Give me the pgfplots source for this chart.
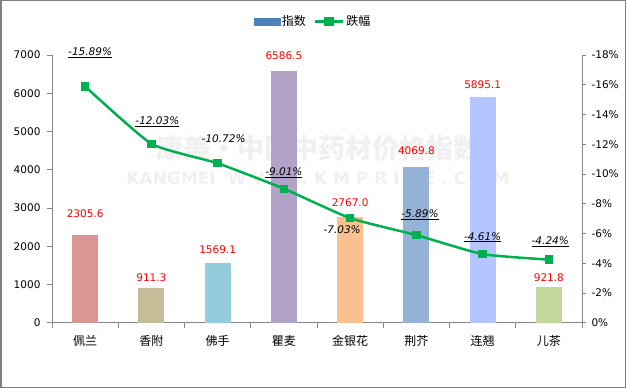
\documentclass[border=0pt]{standalone}
\usepackage{fontspec}
\setmainfont{DejaVu Sans}
\newfontfamily\cjk{Noto Sans CJK SC}
\usepackage{pgfplots}
\usepackage{pgfplotstable}
\pgfplotsset{compat=1.18}
\pgfplotsset{/pgf/number format/assume math mode=true}

\definecolor{axgray}{RGB}{134,134,134}
\definecolor{lgreen}{RGB}{0,176,80}
\definecolor{c1}{RGB}{217,150,148}
\definecolor{c2}{RGB}{196,189,151}
\definecolor{c3}{RGB}{147,205,221}
\definecolor{c4}{RGB}{179,162,199}
\definecolor{c5}{RGB}{250,192,144}
\definecolor{c6}{RGB}{149,179,215}
\definecolor{c7}{RGB}{179,198,255}
\definecolor{c8}{RGB}{195,214,155}
\definecolor{legblue}{RGB}{79,129,189}

% change rate (shown as negative percent); dx,dy: label offsets; u: underlined
\pgfplotstableread{
x y dx dy u
0 15.89 5 31 1
1 12.03 6 19 1
2 10.72 6 21 0
3 9.01 0 13 1
4 7.03 -8 -15 0
5 5.89 3.6 17.6 1
6 4.61 0 14 1
7 4.24 1.4 15 1
}\ratetable

\newcommand{\tickfont}{\fontsize{10.5}{12}\selectfont}

\begin{document}
\begin{tikzpicture}[x=1pt,y=1pt]
\useasboundingbox (0,0) rectangle (626,388);
\draw[color=black!50, line width=1.5pt] (0.75,0.75) rectangle (625.25,387.25);
% watermark
\node[text=black!6, font=\cjk\bfseries\fontsize{27}{27}\selectfont] at (318,240) {康美·中国中药材价格指数};
\node[text=black!6, font=\bfseries\fontsize{17}{17}\selectfont] at (318,210) {KANGMEI\ \ W W W . K M P R I C E . C O M};

\begin{axis}[
  at={(52pt,65.3pt)}, anchor=south west, scale only axis,
  width=530pt, height=267.7pt,
  xmin=-0.5, xmax=7.5, ymin=0, ymax=7000,
  clip=false,
  axis y line*=left, axis x line*=bottom,
  axis line style={axgray, line width=0.8pt},
  ytick={0,1000,...,7000},
  yticklabel style={font=\tickfont, xshift=-3pt},
  /pgf/number format/1000 sep={},
  xtick={0,...,7},
  xticklabels={佩兰,香附,佛手,瞿麦,金银花,荆芥,连翘,儿茶},
  xticklabel style={font=\cjk\fontsize{12}{12}\selectfont, yshift=-4pt},
  major x tick style={draw=none},
  minor xtick={-0.5,0.5,...,7.5},
  tick align=outside,
  major tick length=5pt, minor tick length=5pt,
  tick style={axgray, line width=0.8pt},
  every node near coord/.append style={text=red, anchor=base, inner sep=0pt, font=\tickfont},
  nodes near coords={\pgfmathprintnumber[fixed,precision=1,zerofill,1000 sep={}]{\pgfplotspointmeta}},
]
\addplot[ybar, bar width=26pt, bar shift=0pt, fill=c1, draw=none, nodes near coords style={yshift=17.2pt}] coordinates {(0,2305.6)};
\addplot[ybar, bar width=26pt, bar shift=0pt, fill=c2, draw=none, nodes near coords style={yshift=6.2pt}] coordinates {(1,911.3)};
\addplot[ybar, bar width=26pt, bar shift=0pt, fill=c3, draw=none, nodes near coords style={yshift=8.8pt}] coordinates {(2,1569.1)};
\addplot[ybar, bar width=26pt, bar shift=0pt, fill=c4, draw=none, nodes near coords style={yshift=11.2pt}] coordinates {(3,6586.5)};
\addplot[ybar, bar width=26pt, bar shift=0pt, fill=c5, draw=none, nodes near coords style={yshift=10.5pt}] coordinates {(4,2767.0)};
\addplot[ybar, bar width=26pt, bar shift=0pt, fill=c6, draw=none, nodes near coords style={yshift=12.8pt}] coordinates {(5,4069.8)};
\addplot[ybar, bar width=26pt, bar shift=0pt, fill=c7, draw=none, nodes near coords style={yshift=8.9pt}] coordinates {(6,5895.1)};
\addplot[ybar, bar width=26pt, bar shift=0pt, fill=c8, draw=none, nodes near coords style={yshift=5.9pt}] coordinates {(7,921.8)};
\end{axis}

\begin{axis}[
  at={(52pt,65.3pt)}, anchor=south west, scale only axis,
  width=530pt, height=267.7pt,
  xmin=-0.5, xmax=7.5, ymin=0, ymax=18,
  clip=false,
  axis y line*=right, axis x line=none,
  axis line style={axgray, line width=0.8pt},
  ytick={0,2,...,18},
  yticklabels={0\%,-2\%,-4\%,-6\%,-8\%,-10\%,-12\%,-14\%,-16\%,-18\%},
  yticklabel style={font=\tickfont, xshift=2pt},
  tick align=outside, major tick length=4pt,
  tick style={axgray, line width=0.8pt},
  legend columns=2,
  legend style={at={(0.4925,1.125)}, anchor=center, draw=none, fill=none,
    font=\cjk\fontsize{12}{12}\selectfont,
    /tikz/every even column/.append style={column sep=6pt}},
]
\addlegendimage{legend image code/.code={\fill[legblue] (0pt,-3.5pt) rectangle (26pt,3.5pt);}}
\addlegendentry{指数}
\addplot[lgreen, line width=2.5pt, smooth, tension=0.3,
  mark=square*, mark size=3.7pt, mark options={solid, line width=0pt, fill=lgreen},
  visualization depends on={\thisrow{dx}\as\mydx},
  visualization depends on={\thisrow{dy}\as\mydy},
  visualization depends on={\thisrow{u}\as\myul},
  nodes near coords={\ifdim\myul pt>0.5pt\relax\underline{-\pgfmathprintnumber[fixed,precision=2,zerofill]{\pgfplotspointmeta}\%}\else -\pgfmathprintnumber[fixed,precision=2,zerofill]{\pgfplotspointmeta}\%\fi},
  nodes near coords style={text=black, anchor=base, inner sep=0pt, xshift=\mydx pt, yshift=\mydy pt, font=\tickfont\itshape},
  legend image code/.code={\draw[lgreen, line width=2.5pt] (0pt,0pt) -- (28pt,0pt); \fill[lgreen] (10.5pt,-3.7pt) rectangle (17.5pt,3.7pt);},
] table[x=x, y=y] {\ratetable};
\addlegendentry{跌幅}
\end{axis}
\end{tikzpicture}
\end{document}
